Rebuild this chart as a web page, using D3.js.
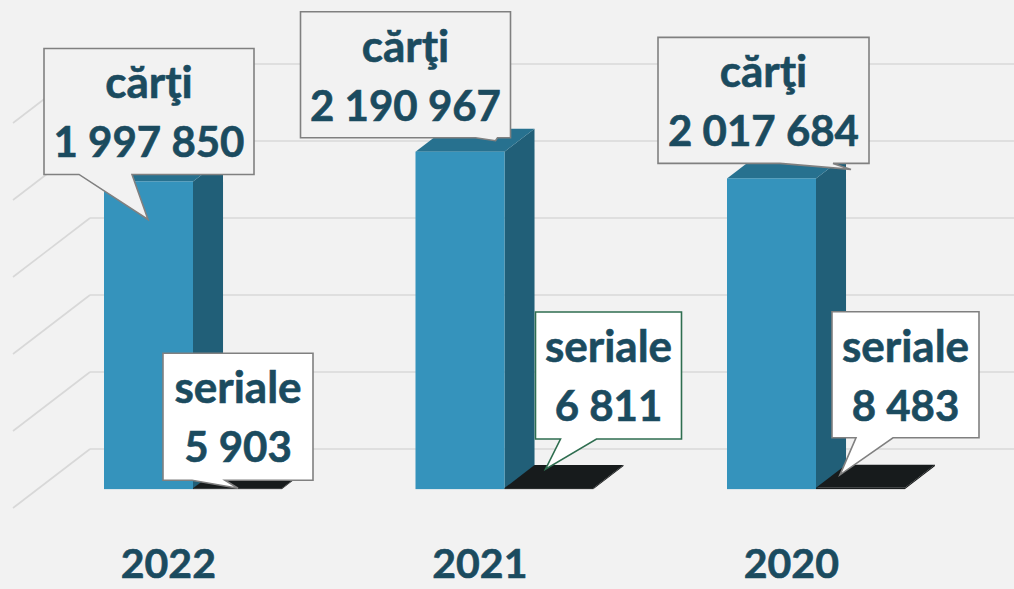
<!DOCTYPE html>
<html>
<head>
<meta charset="utf-8">
<script src="https://cdn.jsdelivr.net/npm/d3@7"></script>
<style>
  html, body { margin: 0; padding: 0; background: #f2f2f2; overflow: hidden; }
</style>
</head>
<body>
<div id="chart"></div>
<script>

// Data
var years = ['2022', '2021', '2020'];
var seriesNames = ['cărţi', 'seriale'];
var cartiValues = [1997850, 2190967, 2017684];
var serialeValues = [5903, 6811, 8483];
var tickValues = [0, 500000, 1000000, 1500000, 2000000, 2500000];

// Callout placement (offsets from the bar's front top-left corner)
var calloutLayout = {
  'cărţi': [
    { dx: -60, dy: -133, w: 210, h: 126, b1: 35, b2: 88, tx: 104, ty: 171 },
    { dx: -115, dy: -140, w: 210, h: 126, b1: 175, b2: 197, tx: 195, ty: 129 },
    { dx: -69, dy: -141, w: 211, h: 126, b1: 122, b2: 175, tx: 193, ty: 132 }
  ],
  'seriale': [
    { dx: -30, dy: -135, w: 150, h: 127, b1: 29, b2: 62, tx: 75, ty: 135 },
    { dx: 31, dy: -176, w: 146, h: 127, b1: 25, b2: 61, tx: 10, ty: 157 },
    { dx: 16, dy: -176, w: 147, h: 126, b1: 24, b2: 61, tx: 8, ty: 163 }
  ]
};

var attrs = {
  svgWidth: 1014,
  svgHeight: 589,
  background: '#f2f2f2',
  gridColor: '#d8d8d8',
  textColor: '#1b4b5f',
  font: 'Lato, Carlito, Calibri, sans-serif',
  depthX: 77,        // full floor depth, projected
  depthY: -59,
  barFrontZ: 0.32,   // depth of bar front plane (0 = floor front, 1 = back wall)
  barDepthZ: 0.39,
  wallLeft: 90,
  colors: {
    'cărţi': { front: '#3593bc', side: '#215f78', top: '#27718f', stroke: '#808080', fill: '#f2f2f2' },
    'seriale': { front: '#1a1e1f', side: '#101313', top: '#171b1c', stroke: '#808080', fill: '#ffffff' }
  },
  calloutStroke: ['#808080', '#2f6e50', '#808080']
};

var values = { 'cărţi': cartiValues, 'seriale': serialeValues };

var fmt = d3.formatLocale({ decimal: ',', thousands: ' ', grouping: [3], currency: ['', ''] }).format(',d');

//Scales
var scales = {};

// value scale on the back wall
scales.yBack = d3.scaleLinear()
  .domain([0, 2500000])
  .range([449, 64]);

// categories on the bar front plane
scales.x = d3.scaleBand()
  .domain(years)
  .range([37.25, 971.75])
  .paddingInner(0.4286)
  .paddingOuter(0.2143);

scales.xSeries = d3.scaleBand()
  .domain(seriesNames)
  .range([0, scales.x.bandwidth()]);

// projection helpers
function shift(z) {
  return { x: -(1 - z) * attrs.depthX, y: -(1 - z) * attrs.depthY };
}
var front = shift(attrs.barFrontZ);
var barDx = attrs.barDepthZ * attrs.depthX;
var barDy = attrs.barDepthZ * attrs.depthY;
function yFront(v) { return scales.yBack(v) + front.y; }

var svg = d3.select('#chart').append('svg')
  .attr('width', attrs.svgWidth)
  .attr('height', attrs.svgHeight)
  .attr('font-family', attrs.font);

svg.append('rect')
  .attr('width', attrs.svgWidth)
  .attr('height', attrs.svgHeight)
  .attr('fill', attrs.background);

//Gridlines: back wall + side wall
var grid = svg.append('g').attr('class', 'grid');

grid.selectAll('.back-line')
  .data(tickValues)
  .enter().append('line')
  .attr('class', 'back-line')
  .attr('x1', attrs.wallLeft)
  .attr('x2', attrs.svgWidth)
  .attr('y1', d => scales.yBack(d))
  .attr('y2', d => scales.yBack(d))
  .attr('stroke', attrs.gridColor)
  .attr('stroke-width', 1.6);

grid.selectAll('.side-line')
  .data(tickValues)
  .enter().append('line')
  .attr('class', 'side-line')
  .attr('x1', attrs.wallLeft)
  .attr('x2', attrs.wallLeft - attrs.depthX)
  .attr('y1', d => scales.yBack(d))
  .attr('y2', d => scales.yBack(d) - attrs.depthY)
  .attr('stroke', attrs.gridColor)
  .attr('stroke-width', 1.6);

//Bars
var bars = [];
years.forEach(function (year, i) {
  seriesNames.forEach(function (s) {
    bars.push({ year: year, i: i, series: s, value: values[s][i] });
  });
});

var barGroups = svg.append('g').attr('class', 'bars')
  .selectAll('g')
  .data(bars)
  .enter().append('g');

barGroups.each(function (d) {
  var g = d3.select(this);
  var c = attrs.colors[d.series];
  var x0 = scales.x(d.year) + scales.xSeries(d.series);
  var x1 = x0 + scales.xSeries.bandwidth();
  var yTop = yFront(d.value);
  var yBase = yFront(0);
  d.x0 = x0;
  d.yTop = yTop;

  // side face
  g.append('path')
    .attr('d', 'M' + [x1, yTop] + 'L' + [x1 + barDx, yTop + barDy] + 'L' + [x1 + barDx, yBase + barDy] + 'L' + [x1, yBase] + 'Z')
    .attr('fill', c.side);

  // top face
  g.append('path')
    .attr('d', 'M' + [x0, yTop] + 'L' + [x0 + barDx, yTop + barDy] + 'L' + [x1 + barDx, yTop + barDy] + 'L' + [x1, yTop] + 'Z')
    .attr('fill', c.top);

  // front face
  g.append('rect')
    .attr('x', x0)
    .attr('y', yTop)
    .attr('width', x1 - x0)
    .attr('height', Math.max(yBase - yTop, 0))
    .attr('fill', c.front);
});

//Category labels, sitting in front of the floor
var labelShift = shift(0);
svg.append('g').attr('class', 'x-labels')
  .selectAll('text')
  .data(years)
  .enter().append('text')
  .attr('x', d => scales.x(d) + scales.x.bandwidth() / 2 + (labelShift.x - front.x))
  .attr('y', 578)
  .attr('text-anchor', 'middle')
  .attr('font-size', 41)
  .attr('font-weight', 700)
  .attr('fill', attrs.textColor)
  .attr('stroke', attrs.textColor)
  .attr('stroke-width', 0.6)
  .text(d => d);

//Callouts
var callouts = svg.append('g').attr('class', 'callouts')
  .selectAll('g')
  .data(bars)
  .enter().append('g')
  .attr('transform', function (d) {
    var l = calloutLayout[d.series][d.i];
    return 'translate(' + (d.x0 + l.dx) + ',' + (d.yTop + l.dy) + ')';
  });

callouts.append('path')
  .attr('d', function (d) {
    var l = calloutLayout[d.series][d.i];
    return 'M0,0H' + l.w + 'V' + l.h + 'H' + l.b2 + 'L' + l.tx + ',' + l.ty + 'L' + l.b1 + ',' + l.h + 'H0Z';
  })
  .attr('fill', d => attrs.colors[d.series].fill)
  .attr('stroke', d => d.series === 'seriale' ? attrs.calloutStroke[d.i] : attrs.colors[d.series].stroke)
  .attr('stroke-width', 1.6)
  .attr('stroke-linejoin', 'miter');

callouts.append('text')
  .attr('x', d => calloutLayout[d.series][d.i].w / 2)
  .attr('y', 50)
  .attr('text-anchor', 'middle')
  .attr('font-size', 44)
  .attr('font-weight', 700)
  .attr('fill', attrs.textColor)
  .attr('stroke', attrs.textColor)
  .attr('stroke-width', 0.6)
  .text(d => d.series);

callouts.append('text')
  .attr('x', d => calloutLayout[d.series][d.i].w / 2)
  .attr('y', 109)
  .attr('text-anchor', 'middle')
  .attr('font-size', 42)
  .attr('font-weight', 700)
  .attr('fill', attrs.textColor)
  .attr('stroke', attrs.textColor)
  .attr('stroke-width', 0.6)
  .text(d => fmt(d.value));

</script>
</body>
</html>
